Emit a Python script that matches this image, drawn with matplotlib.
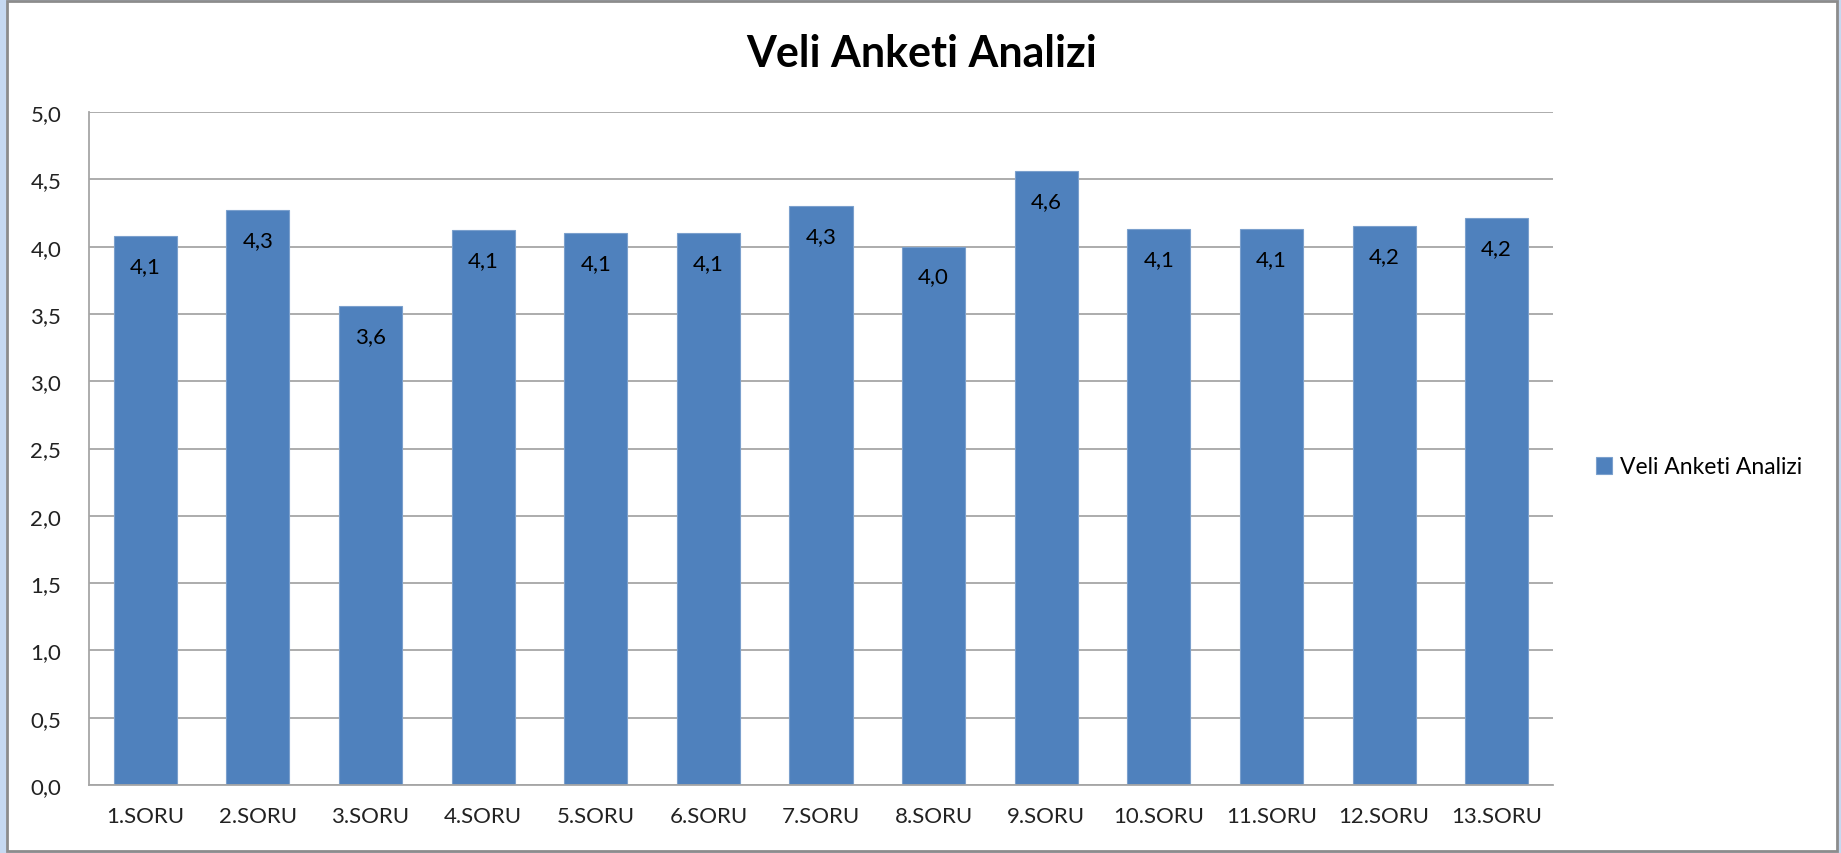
import matplotlib
matplotlib.use('Agg')
import matplotlib.pyplot as plt
from matplotlib.patches import Rectangle

plt.rcParams['font.family'] = ['Lato', 'DejaVu Sans']

sorular = ['1.SORU', '2.SORU', '3.SORU', '4.SORU', '5.SORU', '6.SORU', '7.SORU',
           '8.SORU', '9.SORU', '10.SORU', '11.SORU', '12.SORU', '13.SORU']
ortalama = [4.08, 4.27, 3.56, 4.12, 4.10, 4.10, 4.30, 4.00, 4.56, 4.13, 4.13, 4.15, 4.21]
y_ticks = [0.0, 0.5, 1.0, 1.5, 2.0, 2.5, 3.0, 3.5, 4.0, 4.5, 5.0]

fig = plt.figure(figsize=(18.41, 8.54), dpi=100)

# outer frame like the Excel chart
fig.patches.append(Rectangle((0, 0), 1, 1, transform=fig.transFigure,
                             facecolor='#c6d9f1', edgecolor='none', zorder=-3))
fig.patches.append(Rectangle((7 / 1841, 0.002), 1830 / 1841, 0.996, transform=fig.transFigure,
                             facecolor='white', edgecolor='#8c8c8c', linewidth=2, zorder=-2))

ax = fig.add_axes([89 / 1841, 1 - 786 / 854, 1464 / 1841, 673 / 854])
x = range(len(sorular))
bars = ax.bar(x, ortalama, width=0.56, color='#4f81bd', edgecolor='#7ba0cd',
              linewidth=0.8, label='Veli Anketi Analizi', zorder=2)

for xi, v in zip(x, ortalama):
    ax.annotate(f'{v:.1f}'.replace('.', ','), (xi, v), xytext=(0, -21.5),
                textcoords='offset points', ha='center', va='center',
                fontsize=16, color='black', zorder=3)

ax.set_xlim(-0.5, len(sorular) - 0.5)
ax.set_ylim(0, 5)
ax.set_yticks(y_ticks)
ax.set_yticklabels([f'{t:.1f}'.replace('.', ',') for t in y_ticks])
ax.set_xticks(list(x))
ax.set_xticklabels(sorular)
ax.tick_params(axis='y', length=0, pad=20, labelsize=16, labelcolor='#222222')
ax.tick_params(axis='x', length=0, pad=15, labelsize=16, labelcolor='#222222')
ax.yaxis.grid(True, color='#a6a6a6', linewidth=1.3, zorder=0)
ax.set_axisbelow(True)
for side in ['top', 'right']:
    ax.spines[side].set_visible(False)
for side in ['left', 'bottom']:
    ax.spines[side].set_color('#a6a6a6')
    ax.spines[side].set_linewidth(1.3)

fig.text(922 / 1841, 1 - 54 / 854, 'Veli Anketi Analizi', ha='center', va='center',
         fontsize=31, fontweight='bold')

fig.legend(handles=[bars], loc='center left', bbox_to_anchor=(1596 / 1841, 1 - 468 / 854),
           frameon=False, fontsize=16.5, handlelength=0.7, handleheight=0.7,
           handletextpad=0.35, borderpad=0, borderaxespad=0)

fig.savefig('out.png', dpi=100)
